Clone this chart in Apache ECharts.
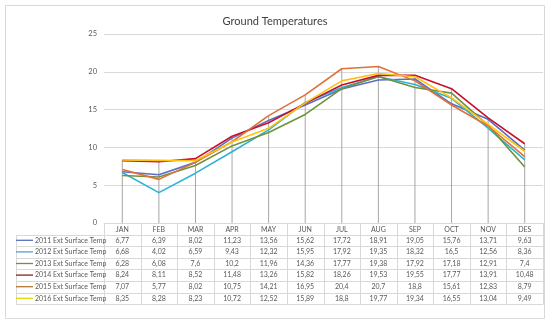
<!DOCTYPE html>
<html><head><meta charset="utf-8">
<script src="https://cdn.jsdelivr.net/npm/echarts@6/dist/echarts.min.js"></script>
<style>html,body{margin:0;padding:0;background:#fff}#c{width:550px;height:328px}</style>
</head><body><div id="c"></div>
<script>
const months = ['JAN','FEB','MAR','APR','MAY','JUN','JUL','AUG','SEP','OCT','NOV','DES'];
const seriesNames = ['2011 Ext Surface Temp','2012 Ext Surface Temp','2013 Ext Surface Temp','2014 Ext Surface Temp','2015 Ext Surface Temp','2016 Ext Surface Temp'];
const t2011 = [6.77,6.39,8.02,11.23,13.56,15.62,17.72,18.91,19.05,15.76,13.71,9.63];
const t2012 = [6.68,4.02,6.59,9.43,12.32,15.95,17.92,19.35,18.32,16.5,12.56,8.36];
const t2013 = [6.28,6.08,7.6,10.2,11.96,14.36,17.77,19.38,17.92,17.18,12.91,7.4];
const t2014 = [8.24,8.11,8.52,11.48,13.26,15.82,18.26,19.53,19.55,17.77,13.91,10.48];
const t2015 = [7.07,5.77,8.02,10.75,14.21,16.95,20.4,20.7,18.8,15.61,12.83,8.79];
const t2016 = [8.35,8.28,8.23,10.72,12.52,15.89,18.8,19.77,19.34,16.55,13.04,9.49];
const yTicks = [0,5,10,15,20,25];
const title = 'Ground Temperatures';

const allSeries = [t2011,t2012,t2013,t2014,t2015,t2016];
const colors = ['#5a6fc0','#2eb3d6','#6f9140','#c8102e','#e0703c','#ffc20e'];
const keyColors = ['#5a6fc0','#5b9bd5','#7a8a45','#7a2a1a','#b07a30','#e8d800'];
const dropMax = months.map((m,i)=>Math.max(...allSeries.map(s=>s[i])));

const GL = 104, GR = 543, GT = 34, GB = 223;
const colW = (GR-GL)/months.length;
const tabLeft = 16, rowTop = 234.5, rowH = 11.6;
const fmt = v => String(v).replace('.', ',');
const font = 'Lato, "Open Sans", sans-serif';
const lineC = '#d9d9d9';

const graphics = [];
graphics.push({type:'rect', shape:{x:5.5,y:5.5,width:539,height:313}, style:{fill:'none', stroke:'#d9d9d9', lineWidth:1}, silent:true});
for (let r=0;r<=6;r++){
  const y = Math.round(rowTop + r*rowH)+0.5;
  graphics.push({type:'line', shape:{x1:tabLeft,y1:y,x2:GR,y2:y}, style:{stroke:lineC,lineWidth:1}, silent:true});
}
const yEnd = Math.round(rowTop+6*rowH)+0.5;
graphics.push({type:'line', shape:{x1:tabLeft+0.5,y1:Math.round(rowTop)+0.5,x2:tabLeft+0.5,y2:yEnd}, style:{stroke:lineC,lineWidth:1}, silent:true});
for (let k=0;k<=months.length;k++){
  const x = Math.round(GL + k*colW)+0.5;
  graphics.push({type:'line', shape:{x1:x,y1:GB,x2:x,y2:yEnd}, style:{stroke:lineC,lineWidth:1}, silent:true});
}
seriesNames.forEach((name,r)=>{
  const cy = rowTop + r*rowH + rowH/2;
  graphics.push({type:'line', shape:{x1:tabLeft+0,y1:cy,x2:33,y2:cy}, style:{stroke:keyColors[r],lineWidth:1.3}, silent:true});
  graphics.push({type:'text', x:35, y:cy, style:{text:name, font:'7px '+font, fill:'#595959', textVerticalAlign:'middle', textAlign:'left'}, silent:true});
  allSeries[r].forEach((v,i)=>{
    graphics.push({type:'text', x:GL + (i+0.5)*colW, y:cy, style:{text:fmt(v), font:'7px '+font, fill:'#595959', textVerticalAlign:'middle', textAlign:'center'}, silent:true});
  });
});

const chart = echarts.init(document.getElementById('c'), null, {renderer:'canvas'});
const series = seriesNames.map((n,i)=>({
  name:n, type:'line', data:allSeries[i], symbol:'none', smooth:false, z:3,
  lineStyle:{color:colors[i], width:1.6}, itemStyle:{color:colors[i]}
}));
series.unshift({type:'bar', data:dropMax, barWidth:1, itemStyle:{color:'#a6a6a6'}, z:1, silent:true});
chart.setOption({
  animation:false,
  backgroundColor:'#fff',
  title:{text:title, left:'center', top:11, textStyle:{fontFamily:font, fontSize:11, fontWeight:'normal', color:'#404040'}},
  grid:{left:GL, right:550-GR, top:GT, bottom:328-GB},
  xAxis:{type:'category', data:months, boundaryGap:true,
    axisLine:{show:true, lineStyle:{color:lineC}}, axisTick:{show:false},
    axisLabel:{fontFamily:font, fontSize:7, color:'#595959', margin:3}},
  yAxis:{type:'value', min:0, max:25, interval:5,
    axisLine:{show:false}, axisTick:{show:false},
    axisLabel:{fontFamily:font, fontSize:7.5, color:'#595959', margin:7},
    splitLine:{lineStyle:{color:lineC}}},
  series:series,
  graphic:graphics
});
</script></body></html>
